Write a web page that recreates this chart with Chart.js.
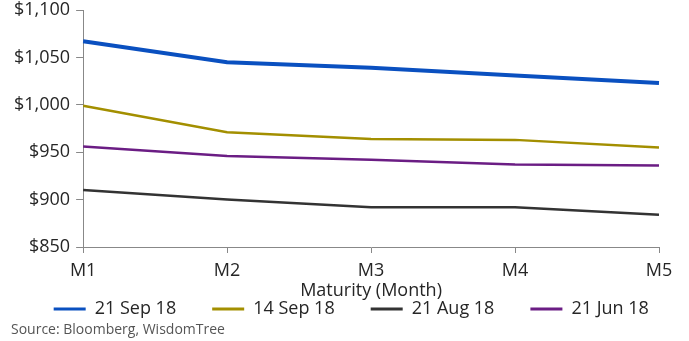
<!DOCTYPE html>
<html>
<head>
<meta charset="utf-8">
<script src="https://cdn.jsdelivr.net/npm/chart.js@4"></script>
<style>
  html, body { margin: 0; padding: 0; background: #fff; }
  #wrap { position: relative; width: 689px; height: 341px; }
  #source { position: absolute; left: 11px; top: 319px; font: 14px "Open Sans", sans-serif; color: #555; }
</style>
</head>
<body>
<div id="wrap">
  <canvas id="chart" width="689" height="341"></canvas>
  <div id="source">Source: Bloomberg, WisdomTree</div>
</div>
<script>
// Maturity buckets
var maturities = ['M1', 'M2', 'M3', 'M4', 'M5'];

// Futures curves (USD)
var sep21 = [1067, 1045, 1039, 1031, 1023];
var sep14 = [999, 971, 964, 963, 955];
var aug21 = [910, 900, 892, 892, 884];
var jun21 = [956, 946, 942, 937, 936];

var textColor = '#262626';
var baseFont = { family: 'Open Sans', size: 18, lineHeight: 1 };

var ctx = document.getElementById('chart').getContext('2d');
var chart = new Chart(ctx, {
    type: 'line',
    data: {
        labels: maturities,
        datasets: [
            { label: '21 Sep 18', data: sep21, borderColor: '#0a50c0', borderWidth: 4 },
            { label: '14 Sep 18', data: sep14, borderColor: '#a38f00', borderWidth: 2.5 },
            { label: '21 Aug 18', data: aug21, borderColor: '#333333', borderWidth: 2.5 },
            { label: '21 Jun 18', data: jun21, borderColor: '#6b1d84', borderWidth: 2.5 }
        ]
    },
    options: {
        responsive: false,
        animation: false,
        elements: {
            point: { radius: 0 },
            line: { tension: 0, fill: false }
        },
        layout: { padding: { left: 8, right: 30, top: 0, bottom: 13 } },
        scales: {
            x: {
                offset: false,
                grid: { drawOnChartArea: false, drawTicks: true, tickLength: 6, color: '#888' },
                border: { color: '#888' },
                ticks: { color: textColor, font: baseFont, maxRotation: 0, padding: 9 },
                title: { display: true, text: 'Maturity (Month)', color: textColor, font: baseFont, padding: { top: -7, bottom: 0 } }
            },
            y: {
                min: 850,
                max: 1100,
                afterFit: function (scale) { scale.paddingTop = 10; }, // top of plot sits at y=10 like the original
                ticks: {
                    stepSize: 50,
                    padding: 6,
                    color: textColor,
                    font: baseFont,
                    callback: function (v) { return '$' + v.toLocaleString('en-US'); }
                },
                grid: { drawOnChartArea: false, drawTicks: true, tickLength: 7, color: '#888' },
                border: { color: '#888' }
            }
        },
        plugins: {
            legend: {
                position: 'bottom',
                align: 'start',
                labels: {
                    usePointStyle: true,
                    pointStyle: 'line',
                    pointStyleWidth: 32,
                    color: textColor,
                    font: baseFont,
                    padding: 0,
                    generateLabels: function (c) {
                        // default items, with trailing room between entries like the original
                        var items = Chart.defaults.plugins.legend.labels.generateLabels(c);
                        items.forEach(function (it, i) {
                            if (i < items.length - 1) it.text = it.text + '\u2003\u2003';
                            it.lineWidth = 3;
                        });
                        // blank spacer in front so the row starts where the original does
                        items.unshift({ text: ' ', strokeStyle: 'rgba(0,0,0,0)', fillStyle: 'rgba(0,0,0,0)', lineWidth: 0, pointStyle: 'line', hidden: false, datasetIndex: -1 });
                        return items;
                    }
                }
            },
            tooltip: { enabled: false }
        }
    }
});
</script>
</body>
</html>
